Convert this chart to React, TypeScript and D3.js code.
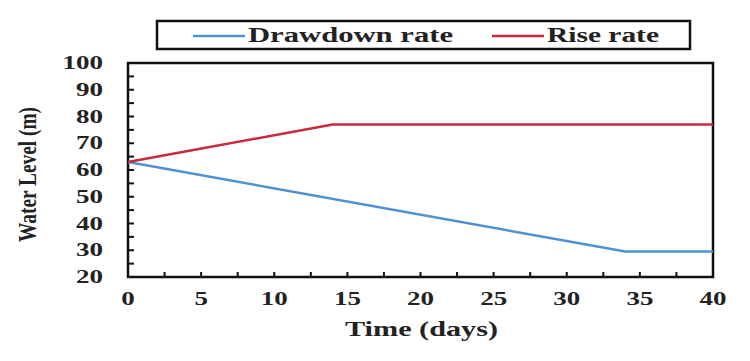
import * as d3 from 'd3';
import React, { useRef, useEffect } from 'react';

const drawdownDays = [0, 34, 40];
const drawdownLevels = [63, 29.5, 29.5];
const riseDays = [0, 14, 40];
const riseLevels = [63, 77, 77];
const xTicks = [0, 5, 10, 15, 20, 25, 30, 35, 40];
const yTicks = [20, 30, 40, 50, 60, 70, 80, 90, 100];

const App = () => {
  const ref = useRef<SVGSVGElement>(null);

  useEffect(() => {
    const svg = d3.select(ref.current);
    svg.selectAll('*').remove();

    const left = 128, right = 713, top = 63, bottom = 277;
    const font = "'Liberation Serif', 'DejaVu Serif', serif";

    const x = d3.scaleLinear().domain([0, 40]).range([left, right]);
    const y = d3.scaleLinear().domain([20, 100]).range([bottom, top]);

    // minor / major ticks pointing inward
    const minorX = d3.range(0, 40.01, 2.5);
    svg.append('g').selectAll('line').data(minorX).enter().append('line')
      .attr('x1', d => x(d)).attr('x2', d => x(d))
      .attr('y1', bottom).attr('y2', bottom - 5)
      .attr('stroke', '#111').attr('stroke-width', 2);
    const minorY = d3.range(20, 100.01, 5);
    svg.append('g').selectAll('line').data(minorY).enter().append('line')
      .attr('x1', left).attr('x2', left + 6)
      .attr('y1', d => y(d)).attr('y2', d => y(d))
      .attr('stroke', '#111').attr('stroke-width', 2);

    // frame
    svg.append('rect')
      .attr('x', left).attr('y', top)
      .attr('width', right - left).attr('height', bottom - top)
      .attr('fill', 'none').attr('stroke', '#111').attr('stroke-width', 2.5);

    // tick labels (stretched wide like the source)
    svg.append('g').selectAll('text').data(xTicks).enter().append('text')
      .attr('transform', d => `translate(${x(d)}, ${bottom + 28}) scale(1.5, 1)`)
      .attr('text-anchor', 'middle')
      .style('font-family', font).attr('font-weight', 'bold').attr('font-size', 18)
      .attr('fill', '#222')
      .text(d => d);
    svg.append('g').selectAll('text').data(yTicks).enter().append('text')
      .attr('transform', d => `translate(${left - 25}, ${y(d) + 6}) scale(1.5, 1)`)
      .attr('text-anchor', 'end')
      .style('font-family', font).attr('font-weight', 'bold').attr('font-size', 18)
      .attr('fill', '#222')
      .text(d => d);

    // axis titles
    svg.append('text')
      .attr('x', 345).attr('y', 336)
      .style('font-family', font).attr('font-weight', 'bold').attr('font-size', 22)
      .attr('fill', '#222')
      .attr('textLength', 153).attr('lengthAdjust', 'spacingAndGlyphs')
      .text('Time (days)');
    svg.append('text')
      .attr('transform', `translate(36, 242) rotate(-90)`)
      .style('font-family', font).attr('font-weight', 'bold').attr('font-size', 25)
      .attr('fill', '#222')
      .attr('textLength', 135).attr('lengthAdjust', 'spacingAndGlyphs')
      .text('Water Level (m)');

    const line = d3.line<[number, number]>().x(d => x(d[0])).y(d => y(d[1]));

    svg.append('path')
      .datum(drawdownDays.map((d, i) => [d, drawdownLevels[i]] as [number, number]))
      .attr('d', line).attr('fill', 'none')
      .attr('stroke', '#4f92cf').attr('stroke-width', 2.5);
    svg.append('path')
      .datum(riseDays.map((d, i) => [d, riseLevels[i]] as [number, number]))
      .attr('d', line).attr('fill', 'none')
      .attr('stroke', '#c9283e').attr('stroke-width', 2.5);

    // legend
    const lg = svg.append('g');
    lg.append('rect')
      .attr('x', 157).attr('y', 21).attr('width', 533).attr('height', 28)
      .attr('fill', '#fff').attr('stroke', '#111').attr('stroke-width', 2.5);
    const items = [
      { label: 'Drawdown rate', color: '#4f92cf', x0: 193, w: 205 },
      { label: 'Rise rate', color: '#c9283e', x0: 492, w: 112 },
    ];
    items.forEach(it => {
      lg.append('line')
        .attr('x1', it.x0).attr('x2', it.x0 + 52)
        .attr('y1', 36).attr('y2', 36)
        .attr('stroke', it.color).attr('stroke-width', 2.5);
      lg.append('text')
        .attr('x', it.x0 + 55).attr('y', 42)
        .style('font-family', font).attr('font-weight', 'bold').attr('font-size', 20)
        .attr('fill', '#222')
        .attr('textLength', it.w).attr('lengthAdjust', 'spacingAndGlyphs')
        .text(it.label);
    });
  }, []);

  return (
    <div style={{ position: 'absolute', left: 0, top: 0 }}>
      <svg ref={ref} width={750} height={361} style={{ display: 'block', background: '#fff' }} />
    </div>
  );
};

export default App;
